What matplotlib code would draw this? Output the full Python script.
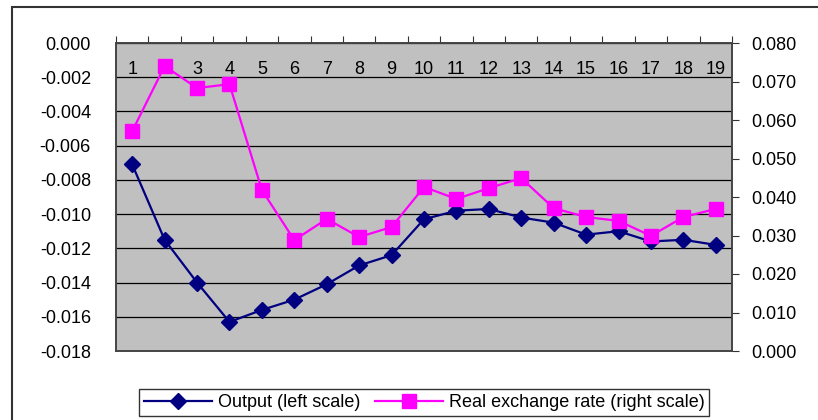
import matplotlib.pyplot as plt
from matplotlib.patches import Rectangle
from matplotlib.ticker import FixedLocator

periods = list(range(1, 20))
output = [-0.0071, -0.0115, -0.0140, -0.0163, -0.0156, -0.0150, -0.0141, -0.0130, -0.0124,
          -0.0103, -0.0098, -0.0097, -0.0102, -0.0105, -0.0112, -0.0110, -0.0116, -0.0115, -0.0118]
real_fx = [0.0571, 0.0740, 0.0683, 0.0693, 0.0418, 0.0288, 0.0343, 0.0296, 0.0322,
           0.0426, 0.0395, 0.0423, 0.0449, 0.0371, 0.0348, 0.0338, 0.0299, 0.0348, 0.0369]
left_ticks = [0.000, -0.002, -0.004, -0.006, -0.008, -0.010, -0.012, -0.014, -0.016, -0.018]
right_ticks = [0.000, 0.010, 0.020, 0.030, 0.040, 0.050, 0.060, 0.070, 0.080]

plt.rcParams['font.family'] = ['Liberation Sans', 'DejaVu Sans']
fs = 13

fig = plt.figure(figsize=(8.18, 4.2), dpi=100)
# outer chart-area border (top and left edges visible)
top = 1 - 7 / 420
fig.add_artist(Rectangle((12 / 818, -0.2), 1.2, top + 0.2,
                         transform=fig.transFigure, fill=False, edgecolor='#333333', lw=1.5))

ax = fig.add_axes([116 / 818, 1 - 351 / 420, 616 / 818, 308 / 420])
ax.set_facecolor('#C0C0C0')
ax.set_xlim(0.5, 19.5)
ax.set_ylim(-0.018, 0)
ax.set_yticks(left_ticks)
ax.set_yticklabels(['%.3f' % v for v in left_ticks], fontsize=fs)
ax.tick_params(axis='y', length=0, pad=18)
ax.yaxis.grid(True, color='black', lw=0.9)
ax.set_axisbelow(True)

# category axis sits at the top (value 0), labels inside the plot
ax.xaxis.tick_top()
ax.xaxis.set_major_locator(FixedLocator([p + 0.5 for p in range(0, 20)]))
ax.xaxis.set_minor_locator(FixedLocator(periods))
ax.xaxis.set_major_formatter(plt.NullFormatter())
ax.set_xticklabels([str(p) for p in periods], minor=True, fontsize=fs)
ax.tick_params(axis='x', which='major', direction='out', length=5, color='#333333')
ax.tick_params(axis='x', which='minor', length=0, pad=-25)
for s in ax.spines.values():
    s.set_color('#444444')
    s.set_linewidth(1.2)

l1, = ax.plot(periods, output, color='#000080', marker='D', markersize=8, lw=1.6,
              label='Output (left scale)')

ax2 = ax.twinx()
ax2.set_ylim(0, 0.080)
ax2.set_yticks(right_ticks)
ax2.set_yticklabels(['%.3f' % v for v in right_ticks], fontsize=fs)
ax2.tick_params(axis='y', direction='out', length=5, pad=9, color='#333333')
for s in ax2.spines.values():
    s.set_color('#444444')
    s.set_linewidth(1.2)
l2, = ax2.plot(periods, real_fx, color='#FF00FF', marker='s', markersize=10, lw=1.6,
               label='Real exchange rate (right scale)')

leg = fig.legend(handles=[l1, l2], ncol=2, loc='center', bbox_to_anchor=(424 / 818, 1 - 402.5 / 420),
                 fontsize=fs, frameon=True, fancybox=False, edgecolor='black',
                 handlelength=3.8, columnspacing=0.8, borderpad=0.25, handletextpad=0.3)
leg.get_frame().set_linewidth(1.0)

fig.savefig('out.png', dpi=100)
